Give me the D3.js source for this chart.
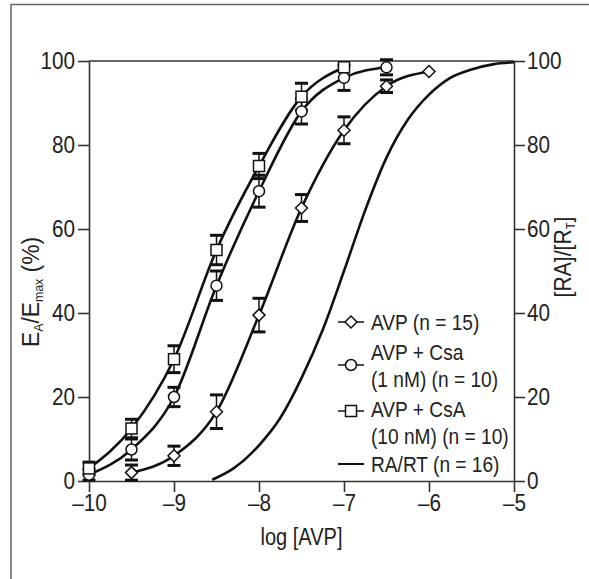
<!DOCTYPE html>
<html>
<head>
<meta charset="utf-8">
<style>
body { margin: 0; background: #fff; }
svg text {
  font-family: "Liberation Sans", Arial, sans-serif;
  fill: #222;
}
.axis path, .axis line { stroke: #333; stroke-width: 1.6; }
.axis text { font-size: 23px; }
.curve { fill: none; stroke: #111; stroke-width: 2.6; }
.err { stroke: #111; stroke-width: 1.5; }
.cap { stroke: #111; stroke-width: 3; }
.mark { fill: #fff; stroke: #111; stroke-width: 1.5; }
</style>
</head>
<body>
<svg width="589" height="579"></svg>
<script src="https://d3js.org/d3.v7.min.js"></script>
<script>
// AVP alone (diamonds)
var avpX = [-9.5, -9, -8.5, -8, -7.5, -7, -6.5, -6];
var avpY = [2, 6, 16.5, 39.5, 65, 83.5, 94, 97.5];
var avpErr = [1.8, 2.3, 4, 4, 3.2, 3.2, 1.5, 0];

// AVP + Csa 1 nM (circles)
var csa1X = [-10, -9.5, -9, -8.5, -8, -7.5, -7, -6.5];
var csa1Y = [1.5, 7.5, 20, 46.5, 69, 88, 96, 98.5];
var csa1Err = [1.3, 2.5, 2.3, 3.5, 3.8, 3, 3, 1.8];

// AVP + CsA 10 nM (squares)
var csa10X = [-10, -9.5, -9, -8.5, -8, -7.5, -7];
var csa10Y = [3, 12.5, 29, 55, 75, 91.5, 98.5];
var csa10Err = [1.5, 2.2, 3.2, 3.5, 3, 3.2, 0];

// RA/RT occupancy curve (no markers)
var raX = [-8.55, -8.3, -8, -7.75, -7.5, -7.25, -7, -6.75, -6.5, -6.25, -6, -5.75, -5.5, -5.25, -5];
var raY = [0.3, 3, 8.5, 15, 24.5, 36, 50, 64.5, 77, 86, 92, 96, 98, 99.2, 99.7];

var xTicks = [-10, -9, -8, -7, -6, -5];
var yTicks = [0, 20, 40, 60, 80, 100];

var legendRows = [
  {sym: "diamond", lines: ["AVP (n = 15)"]},
  {sym: "circle", lines: ["AVP + Csa", "(1 nM) (n = 10)"]},
  {sym: "square", lines: ["AVP + CsA", "(10 nM) (n = 10)"]},
  {sym: "line", lines: ["RA/RT (n = 16)"]}
];

var SX = 0.87;   // narrow the font horizontally
var TSX = 0.9;   // same for tick labels

var svg = d3.select("svg");

var x = d3.scaleLinear().domain([-10, -5]).range([89, 514]);
var y = d3.scaleLinear().domain([0, 100]).range([481, 61]);

// outer frame (runs off the right and bottom)
svg.append("rect")
  .attr("x", 11).attr("y", 4.5)
  .attr("width", 640).attr("height", 640)
  .attr("fill", "none").attr("stroke", "#666").attr("stroke-width", 1.5);

// top border of the plot
svg.append("line")
  .attr("x1", x(-10)).attr("x2", x(-5))
  .attr("y1", y(100)).attr("y2", y(100))
  .attr("stroke", "#333").attr("stroke-width", 1.6);

function dash(d) { return d < 0 ? "\u2013" + Math.abs(d) : "" + d; }

function narrow(sel) {
  sel.selectAll("text").each(function() {
    var t = d3.select(this);
    t.attr("x", (+t.attr("x") || 0) / TSX).attr("transform", "scale(" + TSX + ",1)");
  });
}

svg.append("g").attr("class", "axis")
  .attr("transform", "translate(0," + y(0) + ")")
  .call(d3.axisBottom(x).tickValues(xTicks).tickFormat(dash).tickSize(11).tickSizeOuter(0).tickPadding(3))
  .call(narrow);

svg.append("g").attr("class", "axis")
  .attr("transform", "translate(" + x(-10) + ",0)")
  .call(d3.axisLeft(y).tickValues(yTicks).tickSize(11).tickSizeOuter(0).tickPadding(3))
  .call(narrow);

svg.append("g").attr("class", "axis")
  .attr("transform", "translate(" + x(-5) + ",0)")
  .call(d3.axisRight(y).tickValues(yTicks).tickSize(11).tickSizeOuter(0).tickPadding(2))
  .call(narrow);

svg.selectAll(".axis text").attr("fill", "#222");

// axis titles
svg.append("text")
  .attr("transform", "translate(" + x(-7.5) + ",545) scale(" + SX + ",1)")
  .attr("text-anchor", "middle").attr("font-size", 23)
  .text("log [AVP]");

var yl = svg.append("text")
  .attr("transform", "translate(39,292) rotate(-90) scale(0.95,1)")
  .attr("text-anchor", "middle").attr("font-size", 24);
yl.append("tspan").text("E");
yl.append("tspan").attr("font-size", 13).attr("dy", 4).text("A");
yl.append("tspan").attr("dy", -4).text("/E");
yl.append("tspan").attr("font-size", 13).attr("dy", 4).text("max");
yl.append("tspan").attr("dy", -4).text(" (%)");

var yr = svg.append("text")
  .attr("transform", "translate(571,257) rotate(-90) scale(0.92,1)")
  .attr("text-anchor", "middle").attr("font-size", 23);
yr.append("tspan").text("[RA]/[R");
yr.append("tspan").attr("font-size", 12).attr("dy", 4).text("T");
yr.append("tspan").attr("dy", -4).text("]");

var line = d3.line()
  .x(function(d) { return x(d[0]); })
  .y(function(d) { return y(d[1]); })
  .curve(d3.curveMonotoneX);

function zip(a, b) { return a.map(function(v, i) { return [v, b[i]]; }); }

var series = [
  {sym: "diamond", xs: avpX, ys: avpY, err: avpErr},
  {sym: "circle", xs: csa1X, ys: csa1Y, err: csa1Err},
  {sym: "square", xs: csa10X, ys: csa10Y, err: csa10Err}
];

svg.append("path").attr("class", "curve").attr("d", line(zip(raX, raY)));

series.forEach(function(s) {
  svg.append("path").attr("class", "curve").attr("d", line(zip(s.xs, s.ys)));
});

// error bars
series.forEach(function(s) {
  var g = svg.append("g");
  s.xs.forEach(function(xv, i) {
    var e = s.err[i];
    if (!e) return;
    var cx = x(xv), y0 = y(s.ys[i] - e), y1 = y(s.ys[i] + e);
    g.append("line").attr("class", "err").attr("x1", cx).attr("x2", cx).attr("y1", y0).attr("y2", y1);
    [y0, y1].forEach(function(yy) {
      g.append("line").attr("class", "cap")
        .attr("x1", cx - 6.5).attr("x2", cx + 6.5).attr("y1", yy).attr("y2", yy);
    });
  });
});

function drawMark(g, sym, cx, cy) {
  if (sym === "circle") {
    g.append("circle").attr("class", "mark").attr("cx", cx).attr("cy", cy).attr("r", 5.5);
  } else if (sym === "square") {
    g.append("rect").attr("class", "mark").attr("x", cx - 5.5).attr("y", cy - 5.5).attr("width", 11).attr("height", 11);
  } else if (sym === "diamond") {
    g.append("path").attr("class", "mark")
      .attr("d", "M" + cx + "," + (cy - 6) + "L" + (cx + 6) + "," + cy + "L" + cx + "," + (cy + 6) + "L" + (cx - 6) + "," + cy + "Z");
  }
}

series.forEach(function(s) {
  var g = svg.append("g");
  s.xs.forEach(function(xv, i) { drawMark(g, s.sym, x(xv), y(s.ys[i])); });
});

// legend
var lgY = [322, 352, 409, 464];
var lgMarkY = [322, 365, 411, 464];
var lg = svg.append("g");
legendRows.forEach(function(r, i) {
  lg.append("line")
    .attr("x1", 338).attr("x2", 364)
    .attr("y1", lgMarkY[i]).attr("y2", lgMarkY[i])
    .attr("stroke", "#111").attr("stroke-width", r.sym === "line" ? 2 : 1.5);
  drawMark(lg, r.sym, 351, lgMarkY[i]);
  r.lines.forEach(function(t, j) {
    lg.append("text")
      .attr("transform", "translate(371," + (lgY[i] + j * 27) + ") scale(" + SX + ",1)")
      .attr("dy", "0.36em").attr("font-size", 22)
      .text(t);
  });
});
</script>
</body>
</html>
